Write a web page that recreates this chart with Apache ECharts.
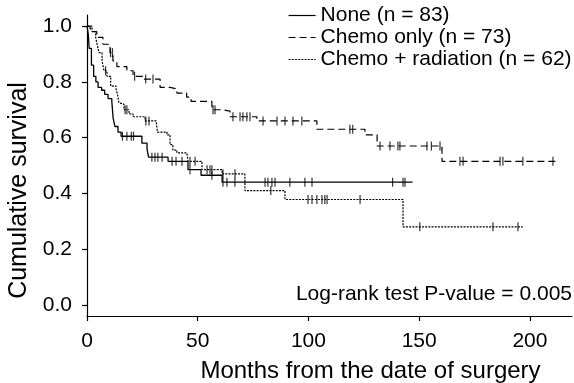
<!DOCTYPE html>
<html>
<head>
<meta charset="utf-8">
<script src="https://cdn.jsdelivr.net/npm/echarts@6/dist/echarts.min.js"></script>
<style>
  html, body { margin: 0; padding: 0; background: #fff; }
  #chart { width: 574px; height: 383px; }
</style>
</head>
<body>
<div id="chart"></div>
<script>
// Kaplan-Meier curves (event times in months, survival after each step)
let noneT = [0, 0.6, 1, 2, 3, 4, 5, 6.6, 8, 9.5, 11.2, 11.8, 12.6, 14, 15.4, 24.8, 27.1, 27.8, 36.6, 45.6, 51.5, 61];
let noneS = [1, 0.97, 0.92, 0.86, 0.82, 0.80, 0.78, 0.77, 0.755, 0.74, 0.73, 0.67, 0.64, 0.62, 0.605, 0.58, 0.56, 0.53, 0.515, 0.485, 0.465, 0.44];
let noneEnd = 147;
let noneCens = [16, 18, 20, 21, 29.3, 30.7, 32, 33.9, 38.4, 40.2, 42.9, 46.5, 56.4, 61.4, 63.2, 66.8, 80.4, 81.7, 83.5, 84.9, 91.6, 98.4, 101.6, 138, 142.7, 143.6];

let chemoT = [0, 1.4, 2.8, 4.4, 7.2, 10.4, 11.7, 13.5, 18, 20.8, 25.3, 33, 37.5, 40.6, 45, 47, 56.4, 61, 64.6, 76.7, 103.8, 125.5, 131, 160.3];
let chemoS = [1, 0.99, 0.98, 0.96, 0.935, 0.905, 0.875, 0.855, 0.84, 0.82, 0.81, 0.78, 0.775, 0.76, 0.745, 0.73, 0.70, 0.695, 0.675, 0.66, 0.63, 0.61, 0.57, 0.515];
let chemoEnd = 212.6;
let chemoCens = [10.6, 11.5, 21.5, 26.5, 29.8, 56.9, 57.8, 65.9, 69.1, 70.4, 72.2, 73.6, 79.5, 85.8, 89.4, 93, 97, 118.7, 120, 132.3, 136.8, 140.4, 141.3, 153.5, 155.5, 159.4, 168.4, 169.8, 186.5, 187.8, 196.8, 210.4];

let radT = [0, 2.3, 3.9, 4.7, 5.4, 6.8, 7.7, 9, 10.7, 13.1, 13.8, 14.4, 15.3, 16.7, 19, 20.8, 26.2, 31.2, 31.8, 36.1, 37.5, 38.8, 40.6, 45.1, 45.6, 51.9, 61, 71.3, 89.4, 142.7];
let radS = [1, 0.98, 0.96, 0.93, 0.905, 0.875, 0.84, 0.82, 0.785, 0.775, 0.755, 0.725, 0.72, 0.70, 0.685, 0.675, 0.66, 0.655, 0.62, 0.61, 0.575, 0.555, 0.545, 0.54, 0.515, 0.485, 0.47, 0.41, 0.378, 0.28];
let radEnd = 196.8;
let radCens = [8.4, 17.2, 18, 26.6, 28, 46.5, 48.8, 54.2, 55.5, 56.4, 61.4, 66.8, 83, 99.8, 101.6, 103.8, 106.1, 107.4, 108.4, 123.3, 150.3, 183.3, 194.6];

let groupNames = ['None (n = 83)', 'Chemo only (n = 73)', 'Chemo + radiation (n = 62)'];
let xTicks = [0, 50, 100, 150, 200];
let yTicks = [0, 0.2, 0.4, 0.6, 0.8, 1.0];

const FONT = 'Liberation Sans, Arial, sans-serif';

// step curve points, last point holds the final value to end of follow-up
function curve(ts, ss, end) {
    let pts = ts.map((t, i) => [t, ss[i]]);
    pts.push([end, ss[ss.length - 1]]);
    return pts;
}
// survival value at a censoring time (value of the step in force)
function censPts(ts, ss, cens) {
    return cens.map(c => {
        let v = ss[0];
        for (let i = 0; i < ts.length; i++) { if (ts[i] <= c) v = ss[i]; }
        return [c, v];
    });
}

function lineSeries(name, data, dash, width) {
    return {
        name: name,
        type: 'line',
        step: 'end',
        data: data,
        symbol: 'none',
        silent: true,
        lineStyle: { color: '#000', width: width, type: dash },
        itemStyle: { color: '#000' }
    };
}
function censSeries(data) {
    return {
        type: 'scatter',
        data: data,
        symbol: 'rect',
        symbolSize: [1.2, 9],
        silent: true,
        itemStyle: { color: '#000' }
    };
}

var myChart = echarts.init(document.getElementById('chart'));
var option = {
    animation: false,
    grid: { left: 87, right: 2, top: 15, bottom: 67, outerBoundsMode: 'none' },
    legend: {
        data: groupNames,
        orient: 'vertical',
        left: 283,
        top: 0,
        itemGap: 1,
        itemWidth: 27,
        itemHeight: 14,
        itemStyle: { opacity: 0 },
        lineStyle: { width: 1.2 },
        textStyle: { fontFamily: FONT, fontSize: 21, color: '#000' }
    },
    xAxis: {
        type: 'value',
        min: 0,
        max: 219,
        name: 'Months from the date of surgery',
        nameLocation: 'middle',
        nameGap: 43,
        nameTextStyle: { fontFamily: FONT, fontSize: 24, color: '#000', padding: [0, 0, 0, 82] },
        axisLine: { show: true, onZero: false, lineStyle: { color: '#000', width: 1.2 } },
        axisTick: { show: true, length: 5, customValues: xTicks, lineStyle: { color: '#000', width: 1.2 } },
        axisLabel: { customValues: xTicks, margin: 15, fontFamily: FONT, fontSize: 21, color: '#000' },
        splitLine: { show: false }
    },
    yAxis: {
        type: 'value',
        min: -0.04,
        max: 1.04,
        name: 'Cumulative survival',
        nameLocation: 'middle',
        nameGap: 55,
        nameTextStyle: { fontFamily: FONT, fontSize: 25, color: '#000', padding: [0, 50, 0, 0] },
        axisLine: { show: true, onZero: false, lineStyle: { color: '#000', width: 1.2 } },
        axisTick: { show: true, length: 5, customValues: yTicks, lineStyle: { color: '#000', width: 1.2 } },
        axisLabel: {
            customValues: yTicks,
            margin: 15,
            fontFamily: FONT,
            fontSize: 21,
            color: '#000',
            formatter: v => v.toFixed(1)
        },
        splitLine: { show: false }
    },
    graphic: [
        {
            type: 'text',
            right: 2,
            top: 284,
            style: { text: 'Log-rank test P-value = 0.005', font: '21px ' + FONT, fill: '#000' }
        }
    ],
    series: [
        lineSeries(groupNames[0], curve(noneT, noneS, noneEnd), 'solid', 1.3),
        lineSeries(groupNames[1], curve(chemoT, chemoS, chemoEnd), [7, 4], 1.2),
        lineSeries(groupNames[2], curve(radT, radS, radEnd), [2, 1.2], 1.2),
        censSeries(censPts(noneT, noneS, noneCens)),
        censSeries(censPts(chemoT, chemoS, chemoCens)),
        censSeries(censPts(radT, radS, radCens))
    ]
};
myChart.setOption(option);
</script>
</body>
</html>
